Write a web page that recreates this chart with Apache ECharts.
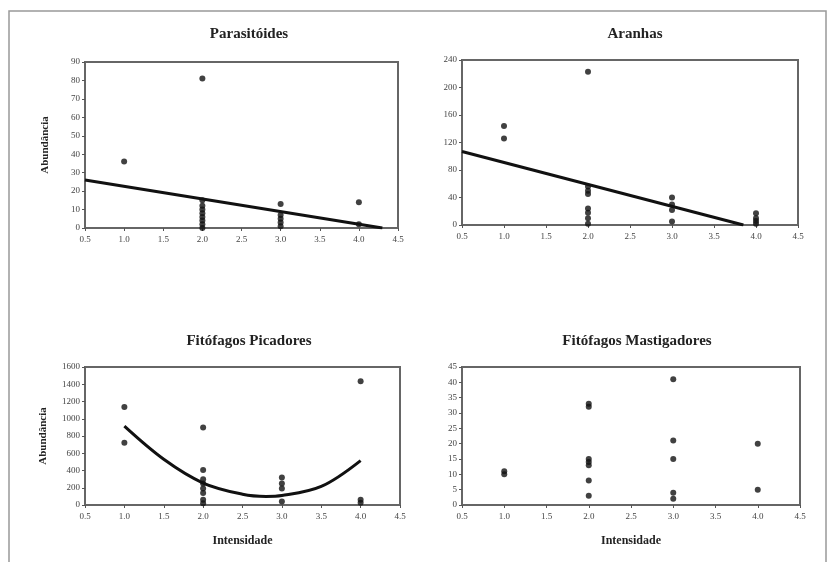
<!DOCTYPE html>
<html>
<head>
<meta charset="utf-8">
<script src="https://cdn.jsdelivr.net/npm/echarts@6/dist/echarts.min.js"></script>
<style>
  html, body { margin: 0; padding: 0; background: #fff; }
  #chart { width: 830px; height: 562px; }
</style>
</head>
<body>
<div id="chart"></div>
<script>
// Panel titles and axis names
const panelTitles = ['Parasitóides', 'Aranhas', 'Fitófagos Picadores', 'Fitófagos Mastigadores'];
const yName = 'Abundância';
const xName = 'Intensidade';

// Parasitóides: [intensidade, abundância]
const parasitoides = [
  [1, 36],
  [2, 81], [2, 15], [2, 12], [2, 10], [2, 8], [2, 6], [2, 4], [2, 2], [2, 0],
  [3, 13], [3, 7], [3, 5], [3, 3], [3, 1],
  [4, 14], [4, 2]
];
const parasitoidesFit = [[0.5, 26], [4.3, 0]];

// Aranhas
const aranhas = [
  [1, 144], [1, 126],
  [2, 223], [2, 56], [2, 50], [2, 45], [2, 24], [2, 18], [2, 10], [2, 2],
  [3, 40], [3, 30], [3, 22], [3, 5],
  [4, 17], [4, 10], [4, 6], [4, 2]
];
const aranhasFit = [[0.5, 107], [3.85, 0]];

// Fitófagos Picadores
const picadores = [
  [1, 1137], [1, 721],
  [2, 898], [2, 405], [2, 300], [2, 250], [2, 190], [2, 140], [2, 60], [2, 20],
  [3, 320], [3, 250], [3, 190], [3, 40],
  [4, 1434], [4, 60], [4, 25]
];
const picadoresFit = [[1, 914], [1.5, 530], [2, 255], [2.5, 125], [2.8, 100], [3, 110], [3.5, 215], [4, 515]];

// Fitófagos Mastigadores
const mastigadores = [
  [1, 11], [1, 10],
  [2, 33], [2, 32], [2, 15], [2, 14], [2, 13], [2, 8], [2, 3],
  [3, 41], [3, 21], [3, 15], [3, 4], [3, 2],
  [4, 20], [4, 5]
];

// Axis ranges
const xRange = { min: 0.5, max: 4.5, interval: 0.5 };
const yRanges = [
  { min: 0, max: 90, interval: 10 },
  { min: 0, max: 240, interval: 40 },
  { min: 0, max: 1600, interval: 200 },
  { min: 0, max: 45, interval: 5 }
];

const serif = '"Liberation Serif", "DejaVu Serif", serif';
const grids = [
  { left: 85, top: 62, width: 313, height: 166 },
  { left: 462, top: 60, width: 336, height: 165 },
  { left: 85, top: 367, width: 315, height: 138 },
  { left: 462, top: 367, width: 338, height: 138 }
];

const titleCenters = [[244, 22], [630, 22], [244, 329], [632, 329]];

const chart = echarts.init(document.getElementById('chart'), null, { renderer: 'canvas' });

const axisLabelStyle = { fontFamily: serif, fontSize: 9, color: '#444' };

const xAxes = grids.map((g, i) => ({
  type: 'value', gridIndex: i,
  min: xRange.min, max: xRange.max, interval: xRange.interval,
  axisLine: { show: false },
  axisTick: { show: true, inside: false, length: 3, lineStyle: { color: '#555' } },
  splitLine: { show: false },
  axisLabel: Object.assign({ formatter: v => v.toFixed(1), margin: 7 }, axisLabelStyle),
  name: i >= 2 ? xName : '',
  nameLocation: 'middle', nameGap: 30,
  nameTextStyle: { fontFamily: serif, fontSize: 12, fontWeight: 'bold', color: '#222' }
}));

const yAxes = grids.map((g, i) => ({
  type: 'value', gridIndex: i,
  min: yRanges[i].min, max: yRanges[i].max, interval: yRanges[i].interval,
  axisLine: { show: false },
  axisTick: { show: true, length: 3, lineStyle: { color: '#555' } },
  splitLine: { show: false },
  axisLabel: Object.assign({ margin: 5, formatter: v => String(v) }, axisLabelStyle),
  name: (i === 0 || i === 2) ? yName : '',
  nameLocation: 'middle', nameGap: i === 2 ? 36 : 34, nameRotate: 90,
  nameTextStyle: { fontFamily: serif, fontSize: 11, fontWeight: 'bold', color: '#222' }
}));

const scatter = (data, i) => ({
  type: 'scatter', xAxisIndex: i, yAxisIndex: i, data: data,
  symbol: 'circle', symbolSize: 6,
  itemStyle: { color: '#111' }, z: 3
});
const fitLine = (data, i, smooth) => ({
  type: 'line', xAxisIndex: i, yAxisIndex: i, data: data,
  showSymbol: false, smooth: smooth, clip: true,
  lineStyle: { color: '#111', width: 3 }, z: 4
});

chart.setOption({
  animation: false,
  backgroundColor: '#fff',
  title: panelTitles.map((t, i) => ({
    text: t, left: titleCenters[i][0], top: titleCenters[i][1], textAlign: 'center',
    textStyle: { fontFamily: serif, fontSize: 15, fontWeight: 'bold', color: '#222' }
  })),
  grid: grids.map(g => Object.assign({ show: true, borderColor: '#666', borderWidth: 2, backgroundColor: 'transparent' }, g)),
  xAxis: xAxes,
  yAxis: yAxes,
  series: [
    scatter(parasitoides, 0), fitLine(parasitoidesFit, 0, false),
    scatter(aranhas, 1), fitLine(aranhasFit, 1, false),
    scatter(picadores, 2), fitLine(picadoresFit, 2, 0.35),
    scatter(mastigadores, 3)
  ],
  graphic: [{
    type: 'rect', shape: { x: 9, y: 11, width: 817, height: 560 },
    style: { fill: 'none', stroke: '#999', lineWidth: 1.5 }, silent: true
  }]
});
</script>
</body>
</html>
